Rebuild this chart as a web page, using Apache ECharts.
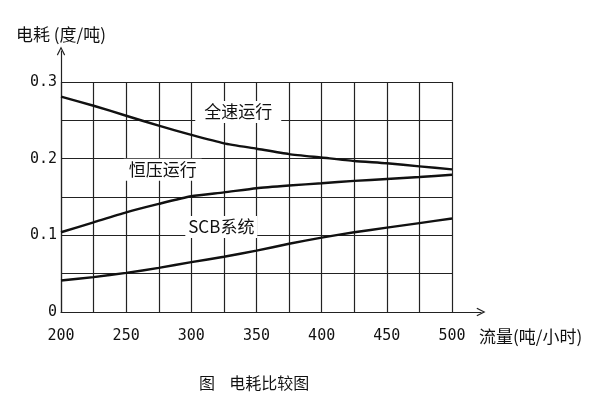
<!DOCTYPE html>
<html><head><meta charset="utf-8">
<script src="https://cdn.jsdelivr.net/npm/echarts@6/dist/echarts.min.js"></script>
<style>html,body{margin:0;padding:0;background:#fff}#c{width:600px;height:400px}</style>
</head><body><div id="c"></div>
<script>
const flow = [200,225,250,275,300,325,350,375,400,425,450,475,500];
const fullSpeed = [0.281,0.269,0.256,0.243,0.231,0.220,0.213,0.206,0.2015,0.197,0.194,0.190,0.186];
const constPressure = [0.104,0.117,0.130,0.141,0.151,0.156,0.1615,0.165,0.168,0.171,0.1735,0.176,0.179];
const scb = [0.041,0.0455,0.051,0.0575,0.065,0.072,0.080,0.089,0.097,0.104,0.110,0.116,0.122];
const seriesNames = ['全速运行','恒压运行','SCB系统'];
const xTickLabels = ['200','250','300','350','400','450','500'];
const yTickLabels = ['0','0.1','0.2','0.3'];
const xName = '流量(吨/小时)';
const yName = '电耗 (度/吨)';
const caption = '图    电耗比较图';

const cjk = '"Noto Sans CJK SC", sans-serif';
const mono = '"DejaVu Sans Mono", monospace';
const arrow = 'path://M0,10 L5,0 L10,10 L8.8,10.8 L5,3 L1.2,10.8 Z';

function pairs(ys){ return flow.map((x,i)=>[x,ys[i]]); }
function tag(name, coord, w){
  return {
    symbol:'rect', symbolSize:[w,22], itemStyle:{color:'#fff'},
    data:[{coord:coord, value:name}],
    label:{show:true, position:'inside', formatter:name, color:'#111', fontSize:17, fontFamily:cjk},
    silent:true, animation:false
  };
}
const lineStyle = {color:'#111', width:2.4};
const chart = echarts.init(document.getElementById('c'));
chart.setOption({
  animation:false,
  backgroundColor:'#fff',
  title:[
    {text:yName, left:11, top:21, textStyle:{fontFamily:cjk, fontSize:17, fontWeight:'normal', color:'#111'}},
    {text:caption, left:194, top:370, textStyle:{fontFamily:cjk, fontSize:16, fontWeight:'normal', color:'#111'}}
  ],
  grid:[
    {left:61, right:148, top:82, bottom:88},
    {left:61, right:119, top:51, bottom:88}
  ],
  xAxis:[
    {type:'value', gridIndex:0, min:200, max:500, interval:25,
     axisLine:{show:false}, axisTick:{show:false},
     splitLine:{show:true, lineStyle:{color:'#222', width:1.2}},
     axisLabel:{margin:17, color:'#111', fontSize:15, fontFamily:mono,
       formatter:v=>{const i=xTickLabels.indexOf(String(v)); return i>=0?xTickLabels[i]:'';}},
     name:xName, nameLocation:'end', nameGap:27,
     nameTextStyle:{fontFamily:cjk, fontSize:17, color:'#111', align:'left', verticalAlign:'top', padding:[16,0,0,0]}
    },
    {type:'value', gridIndex:1, min:0, max:1,
     axisLine:{show:true, symbol:['none', arrow], symbolSize:[9,9], lineStyle:{color:'#222', width:1.2}},
     axisTick:{show:false}, axisLabel:{show:false}, splitLine:{show:false}}
  ],
  yAxis:[
    {type:'value', gridIndex:0, min:0, max:0.3, interval:0.05,
     axisLine:{show:false}, axisTick:{show:false},
     splitLine:{show:true, lineStyle:{color:'#222', width:1.2}},
     axisLabel:{margin:4, color:'#111', fontSize:15, fontFamily:mono,
       formatter:v=>{const i=yTickLabels.indexOf(String(Math.round(v*100)/100)); return i>=0?yTickLabels[i]:'';}}
    },
    {type:'value', gridIndex:1, min:0, max:1,
     axisLine:{show:true, symbol:['none', arrow], symbolSize:[9,9], lineStyle:{color:'#222', width:1.2}},
     axisTick:{show:false}, axisLabel:{show:false}, splitLine:{show:false}}
  ],
  series:[
    {name:seriesNames[0], type:'line', xAxisIndex:0, yAxisIndex:0, data:pairs(fullSpeed), smooth:0.2, showSymbol:false, lineStyle:lineStyle, z:3,
     markPoint:tag(seriesNames[0], [336,0.261], 86)},
    {name:seriesNames[1], type:'line', xAxisIndex:0, yAxisIndex:0, data:pairs(constPressure), smooth:0.2, showSymbol:false, lineStyle:lineStyle, z:3,
     markPoint:tag(seriesNames[1], [278,0.1856], 78)},
    {name:seriesNames[2], type:'line', xAxisIndex:0, yAxisIndex:0, data:pairs(scb), smooth:0.2, showSymbol:false, lineStyle:lineStyle, z:3,
     markPoint:tag(seriesNames[2], [323,0.111], 72)}
  ]
});
</script></body></html>
